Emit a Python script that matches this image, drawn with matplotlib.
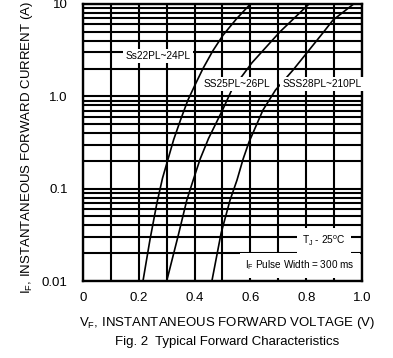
import matplotlib
matplotlib.use("Agg")
import matplotlib.pyplot as plt
import numpy as np

plt.rcParams['font.family'] = ['Liberation Sans', 'DejaVu Sans']
plt.rcParams['mathtext.default'] = 'regular'

# Data (V in volts, I in amps)
v_ss22 = [0.215, 0.240, 0.265, 0.285, 0.305, 0.325, 0.350, 0.376, 0.400, 0.430, 0.465, 0.502, 0.550, 0.600]
i_ss22 = [0.01, 0.028, 0.07, 0.13, 0.21, 0.34, 0.56, 0.91, 1.3, 2.0, 3.1, 4.6, 6.9, 10.0]

v_ss25 = [0.300, 0.340, 0.372, 0.395, 0.420, 0.450, 0.500, 0.533, 0.605, 0.706, 0.810]
i_ss25 = [0.01, 0.03, 0.075, 0.124, 0.21, 0.35, 0.71, 1.17, 2.3, 5.0, 10.0]

v_ss28 = [0.462, 0.495, 0.527, 0.552, 0.574, 0.595, 0.645, 0.690, 0.753, 0.860, 0.896, 0.970]
i_ss28 = [0.01, 0.033, 0.075, 0.124, 0.21, 0.32, 0.71, 1.17, 1.93, 4.87, 6.7, 10.0]

x_ticks = [0, 0.2, 0.4, 0.6, 0.8, 1.0]
x_ticklabels = ["0", "0.2", "0.4", "0.6", "0.8", "1.0"]
y_ticks = [0.01, 0.1, 1.0, 10]
y_ticklabels = ["0.01", "0.1", "1.0", "10"]

W, H = 393, 358
fig = plt.figure(figsize=(W / 100, H / 100), dpi=100)
ax = fig.add_axes([83 / W, 1 - 281 / H, (362 - 83) / W, (281 - 4) / H])

ax.set_yscale('log')
ax.set_xlim(0, 1.0)
ax.set_ylim(0.01, 10)

ax.set_xticks(np.arange(0, 1.0001, 0.1), minor=True)
ax.set_xticks(x_ticks)
ax.set_xticklabels(x_ticklabels)
ax.set_yticks(y_ticks)
ax.set_yticklabels(y_ticklabels)

ax.grid(True, which='both', axis='y', color='black', linewidth=1.5)
ax.grid(True, which='both', axis='x', color='black', linewidth=1.5)
ax.tick_params(which='both', length=0, labelsize=9.5, colors='black')
ax.tick_params(axis='x', pad=8)
ax.tick_params(axis='y', pad=11)
for s in ax.spines.values():
    s.set_linewidth(1.7)
    s.set_color('black')
ax.set_axisbelow(True)

for v, i in [(v_ss22, i_ss22), (v_ss25, i_ss25), (v_ss28, i_ss28)]:
    ax.plot(v, i, color='black', linewidth=1.2, zorder=3)

box = dict(facecolor='white', edgecolor='none', pad=1.5)
fs = 7.3
def px(x, y):
    return (x / W, 1 - y / H)

fig.text(*px(158, 56), "Ss22PL~24PL", ha='center', va='center', fontsize=fs, bbox=box, zorder=5)
fig.text(*px(237, 84), "SS25PL~26PL", ha='center', va='center', fontsize=fs, bbox=box, zorder=5)
fig.text(*px(322, 84), "SSS28PL~210PL", ha='center', va='center', fontsize=fs, bbox=box, zorder=5)
fig.text(*px(324, 241), r"T$_{J}$ - 25$^{o}$C", ha='center', va='center', fontsize=7.3,
         bbox=dict(facecolor='white', edgecolor='none', pad=4), zorder=5)
fig.text(*px(300, 265), r"I$_{F}$ Pulse Width = 300 ms", ha='center', va='center', fontsize=7.2,
         bbox=dict(facecolor='white', edgecolor='none', pad=4), zorder=5)

fig.text(*px(227, 323), r"V$_{F}$, INSTANTANEOUS FORWARD VOLTAGE (V)", ha='center', va='center', fontsize=9.5)
fig.text(*px(227, 342), "Fig. 2  Typical Forward Characteristics", ha='center', va='center', fontsize=9.5)
fig.text(*px(27, 148), r"I$_{F}$, INSTANTANEOUS FORWARD CURRENT (A)", ha='center', va='center',
         fontsize=9.5, rotation=90)

fig.savefig("out.png", dpi=100)
